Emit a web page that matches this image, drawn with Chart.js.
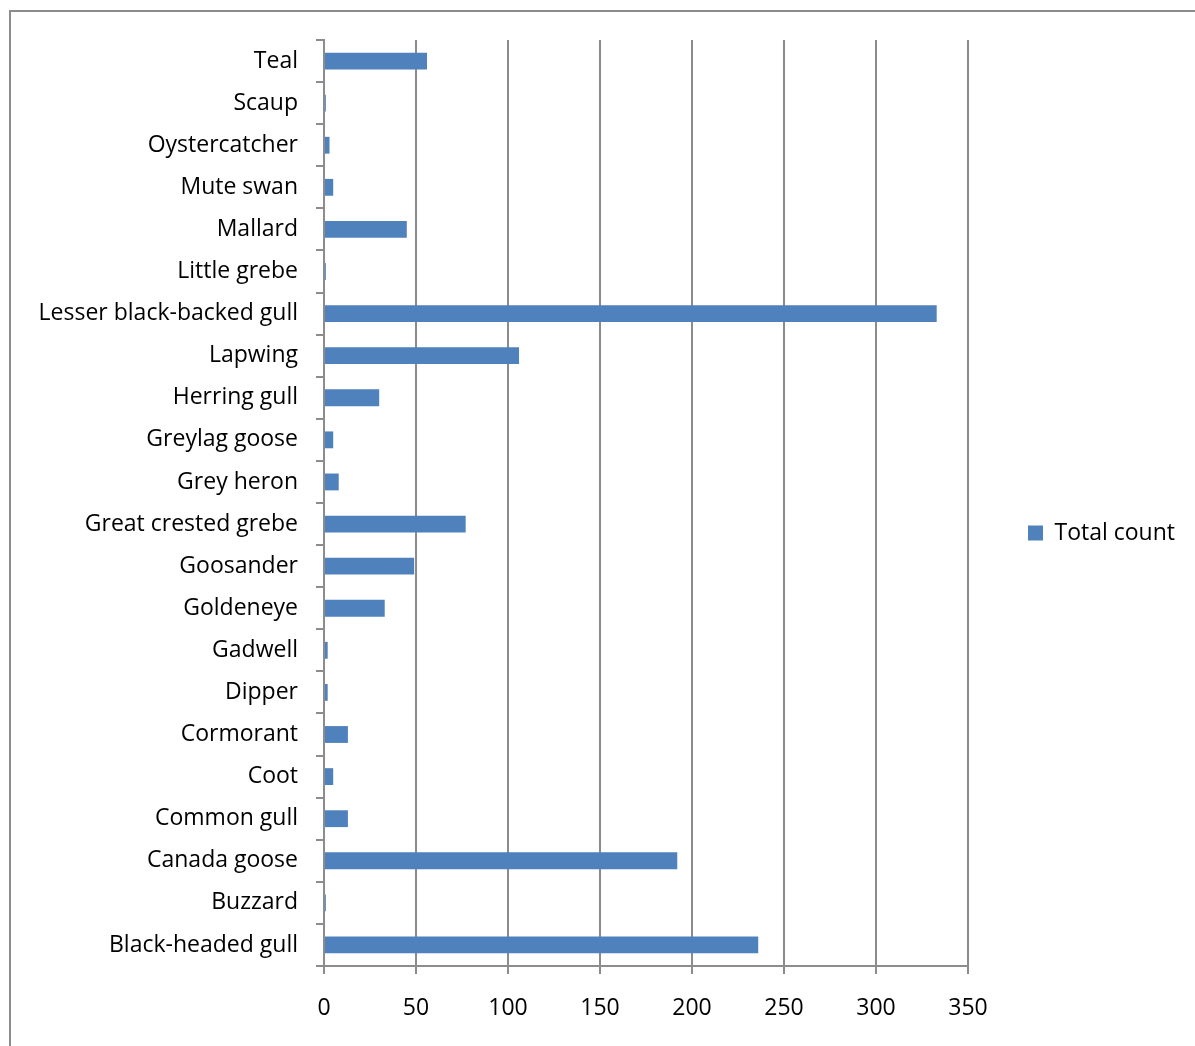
<!DOCTYPE html>
<html>
<head>
<meta charset="utf-8">
<script src="https://cdn.jsdelivr.net/npm/chart.js@4"></script>
<style>
  body { margin: 0; background: #fff; overflow: hidden; }
  #frame {
    position: absolute; left: 9px; top: 10px;
    width: 1200px; height: 1050px;
    border: 2px solid #8c8c8c;
  }
  #birdChart { position: absolute; left: 0; top: 0; }
</style>
</head>
<body>
<div id="frame">
  <canvas id="birdChart" width="1184" height="1034"></canvas>
</div>
<script>
// species listed bottom-to-top as in the survey sheet
var species = [
  'Black-headed gull', 'Buzzard', 'Canada goose', 'Common gull', 'Coot',
  'Cormorant', 'Dipper', 'Gadwell', 'Goldeneye', 'Goosander',
  'Great crested grebe', 'Grey heron', 'Greylag goose', 'Herring gull',
  'Lapwing', 'Lesser black-backed gull', 'Little grebe', 'Mallard',
  'Mute swan', 'Oystercatcher', 'Scaup', 'Teal'
];
var totalCount = [236, 1, 192, 13, 5, 13, 2, 2, 33, 49, 77, 8, 5, 30, 106, 333, 1, 45, 5, 3, 1, 56];
var countTicks = [0, 50, 100, 150, 200, 250, 300, 350];

var font = { family: '"Open Sans", sans-serif', size: 23 };
var axisGrey = '#8c8c8c';

var ctx = document.getElementById('birdChart').getContext('2d');
var birdChart = new Chart(ctx, {
  type: 'bar',
  data: {
    labels: species,
    datasets: [{
      label: 'Total count',
      data: totalCount,
      backgroundColor: '#4f81bd',
      borderWidth: 0,
      categoryPercentage: 1.0,
      barPercentage: 0.4
    }]
  },
  options: {
    indexAxis: 'y',
    responsive: false,
    animation: false,
    layout: { padding: { top: 28, right: 10, bottom: 20, left: 0 } },
    plugins: {
      tooltip: { enabled: false },
      legend: {
        position: 'right',
        labels: {
          color: '#000',
          font: { family: font.family, size: 23 },
          boxWidth: 15,
          boxHeight: 15,
          padding: 60
        }
      }
    },
    scales: {
      x: {
        min: 0,
        max: 350,
        afterBuildTicks: function (scale) {
          scale.ticks = countTicks.map(function (v) { return { value: v }; });
        },
        afterFit: function (scale) { scale.height = 60; },
        ticks: { color: '#000', font: font, padding: 21 },
        grid: { color: axisGrey, lineWidth: 2, tickLength: 8 },
        border: { color: axisGrey, width: 2 }
      },
      y: {
        reverse: true,
        offset: true,
        afterFit: function (scale) {
          scale.width = 313;
          scale.paddingTop = 0;
          scale.paddingBottom = 0;
        },
        ticks: { color: '#000', font: font, padding: 18, autoSkip: false },
        grid: { offset: true, drawOnChartArea: false, color: axisGrey, lineWidth: 2, tickLength: 8 },
        border: { color: axisGrey, width: 2 }
      }
    }
  }
});
</script>
</body>
</html>
